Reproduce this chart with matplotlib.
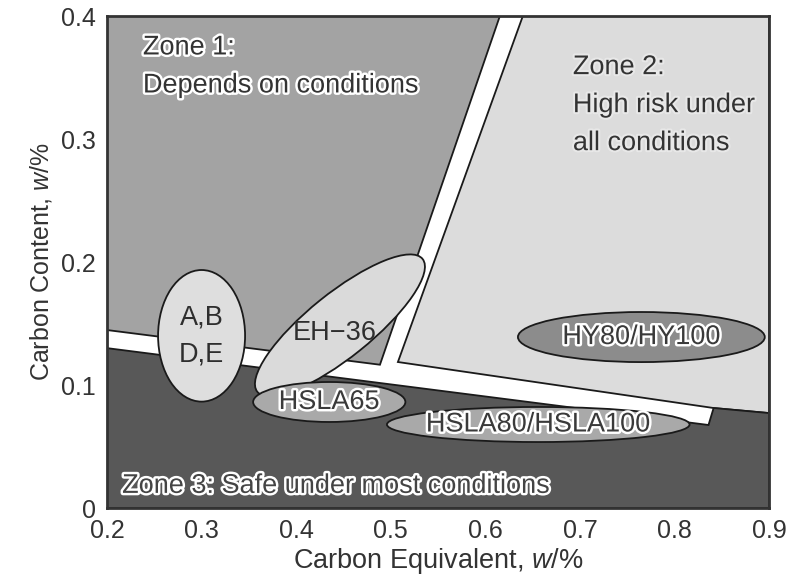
import matplotlib
matplotlib.use("Agg")
import matplotlib.pyplot as plt
from matplotlib.patches import Polygon, Ellipse
from matplotlib.transforms import ScaledTranslation
import matplotlib.patheffects as pe

# ---- data ----
x_ticks = [0.2, 0.3, 0.4, 0.5, 0.6, 0.7, 0.8, 0.9]
x_tick_labels = ["0.2", "0.3", "0.4", "0.5", "0.6", "0.7", "0.8", "0.9"]
y_ticks = [0, 0.1, 0.2, 0.3, 0.4]
y_tick_labels = ["0", "0.1", "0.2", "0.3", "0.4"]

# zone boundaries (Carbon Equivalent, Carbon Content)
zone1_ce = [0.2, 0.6154, 0.4886, 0.2]
zone1_c = [0.4, 0.4, 0.1165, 0.1447]
zone2_ce = [0.6397, 0.9, 0.9, 0.8414, 0.5076]
zone2_c = [0.4, 0.4, 0.0772, 0.0813, 0.1187]
zone3_ce = [0.2, 0.9, 0.9, 0.8414, 0.8360, 0.2]
zone3_c = [0.0, 0.0, 0.0772, 0.0813, 0.0675, 0.1300]

# steel grade regions (axis-aligned ellipses): center CE, center C, width CE, height C
grade_names = ["A,B\nD,E", "HSLA65", "HSLA80/HSLA100", "HY80/HY100"]
grade_ce = [0.300, 0.435, 0.656, 0.765]
grade_c = [0.140, 0.0862, 0.0679, 0.139]
grade_w = [0.092, 0.161, 0.320, 0.261]
grade_h = [0.107, 0.0325, 0.0285, 0.0407]
grade_fill = ["#dedede", "#a9a9a9", "#a9a9a9", "#8c8c8c"]
grade_outlined = [False, True, True, True]

# EH-36 tilted region: center (CE, C), length/width (inches), angle
eh_ce, eh_c = 0.4463, 0.1485
eh_len, eh_wid, eh_angle = 2.12, 0.64, 38.8

plt.rcParams['font.family'] = ['Liberation Sans', 'DejaVu Sans']
plt.rcParams['mathtext.fontset'] = 'custom'
plt.rcParams['mathtext.it'] = 'Liberation Sans:italic'
plt.rcParams['mathtext.rm'] = 'Liberation Sans'

fig = plt.figure(figsize=(7.92, 5.80), dpi=100)
ax = fig.add_axes([0.1351, 0.1241, 0.8359, 0.8483])
ax.set_xlim(0.2, 0.9)
ax.set_ylim(0, 0.4)
ax.set_facecolor("white")

edge = "#1a1a1a"
ax.add_patch(Polygon(list(zip(zone1_ce, zone1_c)), closed=True, facecolor="#a3a3a3", edgecolor=edge, lw=1.3, zorder=1))
ax.add_patch(Polygon(list(zip(zone2_ce, zone2_c)), closed=True, facecolor="#dcdcdc", edgecolor=edge, lw=1.3, zorder=1))
ax.add_patch(Polygon(list(zip(zone3_ce, zone3_c)), closed=True, facecolor="#585858", edgecolor=edge, lw=1.3, zorder=1))

halo = [pe.withStroke(linewidth=3.5, foreground="white")]
lighthalo = [pe.withStroke(linewidth=3, foreground="#e8e8e8")]
tc = "#2e2e2e"
fs = 19.5

# EH-36
tr = fig.dpi_scale_trans + ScaledTranslation(eh_ce, eh_c, ax.transData)
ax.add_patch(Ellipse((0, 0), eh_len, eh_wid, angle=eh_angle, transform=tr,
                     facecolor="#dadada", edgecolor=edge, lw=1.3, zorder=2))
ax.text(0.441, 0.142, "EH\u221236", fontsize=fs, color=tc, ha="center", va="center", zorder=5)

for name, cx, cy, w, h, fc, outl in zip(grade_names, grade_ce, grade_c, grade_w, grade_h, grade_fill, grade_outlined):
    ax.add_patch(Ellipse((cx, cy), w, h, facecolor=fc, edgecolor=edge, lw=1.3, zorder=3))
    if outl:
        ax.text(cx, cy, name, fontsize=fs, color="#3a3a3a", ha="center", va="center",
                path_effects=halo, zorder=5)
    else:
        ax.text(cx, cy, name, fontsize=fs, color=tc, ha="center", va="center",
                linespacing=1.55, zorder=5)

ax.text(0.238, 0.385, "Zone 1:\nDepends on conditions", fontsize=fs, color="#333333",
        ha="left", va="top", linespacing=1.6, path_effects=halo, zorder=5)
ax.text(0.6926, 0.369, "Zone 2:\nHigh risk under\nall conditions", fontsize=fs, color="#333333",
        ha="left", va="top", linespacing=1.6, path_effects=lighthalo, zorder=5)
ax.text(0.216, 0.018, "Zone 3: Safe under most conditions", fontsize=fs, color="#444444",
        ha="left", va="center", path_effects=halo, zorder=5)

ax.set_xticks(x_ticks)
ax.set_xticklabels(x_tick_labels)
ax.set_yticks(y_ticks)
ax.set_yticklabels(y_tick_labels)
ax.tick_params(length=0, labelsize=18, labelcolor="#333333")
ax.tick_params(axis="x", pad=8)
ax.tick_params(axis="y", pad=8)
for s in ax.spines.values():
    s.set_color("#333333")
    s.set_linewidth(2)
    s.set_zorder(6)

ax.set_xlabel(r"Carbon Equivalent, $\mathit{w}$/%", fontsize=19.5, color="#333333", labelpad=2)
ax.set_ylabel(r"Carbon Content, $\mathit{w}$/%", fontsize=18, color="#333333", labelpad=5)

fig.savefig("out.png", dpi=100)
